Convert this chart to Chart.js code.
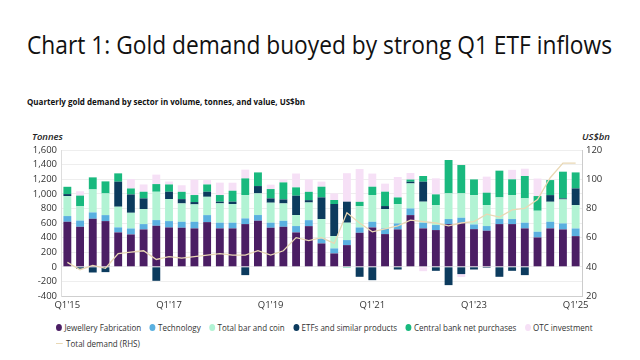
<!DOCTYPE html>
<html>
<head>
<meta charset="utf-8">
<script src="https://cdn.jsdelivr.net/npm/chart.js@4.4.1/dist/chart.umd.min.js"></script>
<style>
  body { margin: 0; width: 640px; height: 360px; background: #fff; overflow: hidden; position: relative; font-family: "Open Sans", "Noto Sans", sans-serif; color: #222; }
  .abs { position: absolute; white-space: nowrap; transform-origin: 0 0; }
  #title { left: 27px; top: 26px; font-size: 26px; color: #111; }
  #subtitle { left: 27px; top: 95px; font-size: 9.5px; font-weight: 700; color: #111; }
  .axt { font-size: 9.5px; font-weight: 600; font-style: italic; color: #222; top: 130px; }
  #legend { left: 56px; top: 321px; font-size: 9.5px; color: #333; line-height: 13px; }
  .it { display: inline-flex; align-items: center; margin-right: 10px; }
  .dot { width: 7px; height: 7px; border-radius: 50%; display: inline-block; margin-right: 3px; }
  .ln { width: 8px; height: 1.5px; display: inline-block; margin-right: 4px; }
  #wrap { position: absolute; left: 0; top: 140px; width: 640px; height: 176px; }
</style>
</head>
<body>
<div id="title" class="abs">Chart 1: Gold demand buoyed by strong Q1 ETF inflows</div>
<div id="subtitle" class="abs">Quarterly gold demand by sector in volume, tonnes, and value, US$bn</div>
<div class="abs axt" style="left:32px">Tonnes</div>
<div class="abs axt" style="left:582px">US$bn</div>
<div id="wrap"><canvas id="chart" width="640" height="176"></canvas></div>
<div id="legend" class="abs"></div>
<script>
const quarters = [];
for (let y = 15; y <= 25; y++) {
  for (let q = 1; q <= 4; q++) {
    if (y === 25 && q > 1) break;
    quarters.push("Q" + q + "'" + y);
  }
}

const jewellery = [617, 548, 658, 626, 471, 443, 512, 562, 539, 535, 526, 612, 526, 526, 585, 631, 535, 548, 471, 557, 320, 183, 297, 466, 539, 448, 512, 708, 526, 503, 585, 603, 516, 494, 585, 585, 526, 402, 526, 512, 420];
const technology = [78, 85, 87, 82, 69, 82, 73, 78, 87, 82, 91, 96, 78, 78, 78, 78, 69, 82, 87, 82, 69, 69, 69, 73, 78, 78, 82, 91, 78, 69, 69, 69, 64, 64, 69, 69, 78, 78, 91, 82, 105];
const barCoin = [274, 196, 315, 297, 283, 215, 206, 388, 302, 251, 238, 251, 265, 256, 320, 297, 274, 238, 151, 242, 265, 169, 238, 292, 366, 265, 265, 343, 288, 274, 352, 334, 402, 288, 297, 329, 334, 288, 274, 329, 320];
const etfs = [27, -27, -78, -73, 343, 251, 146, -192, 100, 59, 32, 69, 23, 32, -114, 100, 59, 55, 265, 32, 297, 439, 288, -137, -183, 41, -37, 23, 274, -55, -251, -100, -37, -14, -137, -55, -114, -7, 91, 14, 229];
const centralBanks = [100, 146, 165, 165, 114, 82, 91, 105, 100, 100, 96, 100, 91, 150, 228, 187, 128, 233, 114, 114, 146, 55, -12, 59, 114, 197, 91, 30, 78, 146, 457, 388, 215, 169, 366, 215, 306, 201, 206, 366, 219];
const otc = [0, 60, 0, 0, 0, 130, 100, 130, 40, 90, 210, 60, 170, 110, 120, 0, 60, 40, 190, 170, 70, 90, 390, 450, 180, 110, 280, 90, -60, 220, 0, -40, 0, 220, 0, 130, 100, 240, 0, 0, 0];
const totalValue = [43, 38, 41, 39, 49, 50, 51, 45, 47, 46, 47, 48, 49, 48, 48, 51, 48, 51, 60, 58, 60, 56, 77, 70, 64, 66, 68, 72, 71, 70, 68, 70, 71, 76, 74, 79, 80, 86, 101, 111, 111];

const colors = {
  jew: "#4b1e64",
  tech: "#5ab0e0",
  bar: "#b2f3d4",
  etf: "#0c3b5e",
  cb: "#19b97e",
  otc: "#f6e0f6",
  total: "#e9d8b4"
};

function bar(label, data, color) {
  return {
    label,
    data,
    backgroundColor: color,
    borderWidth: 0,
    barPercentage: 0.62,
    categoryPercentage: 1.0,
    yAxisID: "y"
  };
}

const tickFont = { family: "'Open Sans', sans-serif", size: 9.5 };

new Chart(document.getElementById("chart"), {
  type: "bar",
  data: {
    labels: quarters,
    datasets: [
      bar("Jewellery Fabrication", jewellery, colors.jew),
      bar("Technology", technology, colors.tech),
      bar("Total bar and coin", barCoin, colors.bar),
      bar("ETFs and similar products", etfs, colors.etf),
      bar("Central bank net purchases", centralBanks, colors.cb),
      bar("OTC investment", otc, colors.otc),
      {
        type: "line",
        label: "Total demand (RHS)",
        data: totalValue,
        yAxisID: "y1",
        borderColor: colors.total,
        borderWidth: 1.3,
        pointRadius: 0,
        tension: 0,
        order: -1
      }
    ]
  },
  options: {
    responsive: false,
    animation: false,
    layout: { padding: { top: 10, left: 0, right: 0, bottom: 0 } },
    plugins: { legend: { display: false }, tooltip: { enabled: false } },
    scales: {
      x: {
        stacked: true,
        grid: { display: false, drawTicks: false },
        border: { color: "#cfcfcf" },
        ticks: {
          autoSkip: false,
          maxRotation: 0,
          padding: 4,
          color: "#333",
          font: tickFont,
          callback: (v, i) => (i % 8 === 0 ? quarters[i] : "")
        },
        afterFit: s => { s.height = 20; }
      },
      y: {
        stacked: true,
        min: -400,
        max: 1600,
        grid: { color: "#eeeeee", drawTicks: false },
        border: { color: "#dddddd" },
        ticks: {
          stepSize: 200,
          padding: 4,
          color: "#333",
          font: tickFont,
          callback: v => v.toLocaleString("en-US")
        },
        afterFit: s => { s.width = 61; }
      },
      y1: {
        position: "right",
        min: 20,
        max: 120,
        grid: { display: false, drawTicks: false },
        border: { color: "#cccccc" },
        ticks: { stepSize: 20, padding: 4, color: "#333", font: tickFont },
        afterFit: s => { s.width = 58; }
      }
    }
  }
});

// legend
const legendItems = [
  ["Jewellery Fabrication", colors.jew],
  ["Technology", colors.tech],
  ["Total bar and coin", colors.bar],
  ["ETFs and similar products", colors.etf],
  ["Central bank net purchases", colors.cb],
  ["OTC investment", colors.otc]
];
const lg = document.getElementById("legend");
let html = '<div id="row1" style="display:inline-block">';
legendItems.forEach(([t, c]) => {
  html += '<span class="it"><span class="dot" style="background:' + c + '"></span>' + t + "</span>";
});
html += '</div><div><span class="it"><span class="ln" style="background:' + colors.total + '"></span>Total demand (RHS)</span></div>';
lg.innerHTML = html;

function fitWidth(el, w) {
  const actual = el.getBoundingClientRect().width;
  el.style.transform = "scaleX(" + (w / actual) + ")";
}
fitWidth(document.getElementById("title"), 585);
fitWidth(document.getElementById("subtitle"), 278);
const row1 = document.getElementById("row1");
const k = 545 / row1.getBoundingClientRect().width;
lg.style.transform = "scaleX(" + k + ")";
</script>
</body>
</html>
